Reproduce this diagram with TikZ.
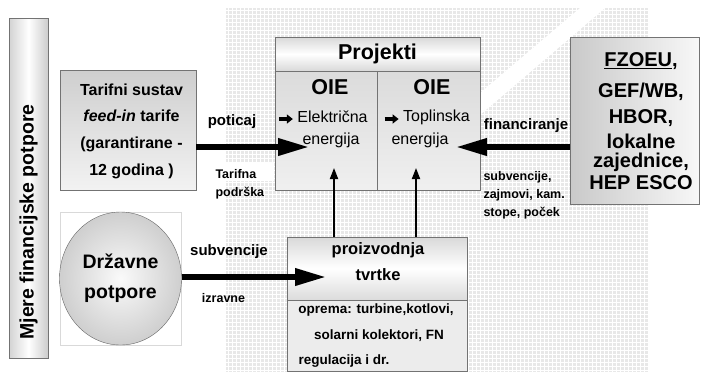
\documentclass[tikz,border=0pt]{standalone}
\usepackage{fontspec}
\setmainfont{Liberation Sans}
\usetikzlibrary{arrows.meta,positioning,shapes.geometric}

\tikzset{
  okvir/.style={draw=black!55, line width=0.7pt, inner sep=0pt},
  debela/.style={line width=6.5pt, -{Triangle[length=32pt,width=16pt]}},
  tanka/.style={line width=1.8pt, -{Triangle[length=11pt,width=8pt]}},
  malastr/.style={line width=3.5pt, -{Triangle[length=6pt,width=9pt]}},
  velika/.style={font=\fontsize{20}{19}\selectfont\bfseries},
  oznaka/.style={font=\fontsize{15}{18}\selectfont\bfseries},
  sitno/.style={font=\fontsize{12.5}{18}\selectfont\bfseries, align=left},
  obicno/.style={font=\fontsize{16}{20}\selectfont},
}

\begin{document}
\begin{tikzpicture}[x=1pt,y=-1pt]
\useasboundingbox (0,0) rectangle (703,376);

% Pozadina (mreza)
\fill[gray!18] (226,8) rectangle (648,372);
	\foreach \x in {228,232,...,646}
		\draw[white, line width=0.8pt] (\x,8) -- (\x,372);
	\foreach \y in {10,14,...,370}
		\draw[white, line width=0.8pt] (226,\y) -- (648,\y);
\fill[white] (580,8) -- (605,8) -- (480,115) -- (480,93) -- cycle;
\fill[white] (196,162) rectangle (274,181);

% Mjere
\node[okvir, left color=gray!35, right color=gray!40, middle color=white,
      minimum width=39, minimum height=340] (mjere) at (28.5,188.5) {};
\node[rotate=90, font=\fontsize{19.5}{20}\selectfont\bfseries] (mjeretxt) at (28.5,222) {Mjere financijske potpore};

% Tarifni sustav
\node[okvir, top color=gray!38, bottom color=gray!10, minimum width=136, minimum height=120] (tarifni) at (128,130) {};
\node[font=\fontsize{16}{26.7}\selectfont\bfseries, align=center] (tarifnitxt) at (131.5,131)
	{Tarifni sustav\\ \textit{feed-in} tarife\\ (garantirane -\\ 12 godina )};

% Projekti
\node[okvir, top color=gray!30, bottom color=gray!30, middle color=white,
      minimum width=205, minimum height=34, font=\fontsize{21.5}{22}\selectfont\bfseries] (projekti) at (377.5,54) {Projekti};
\node[okvir, top color=gray!28, bottom color=gray!12, minimum width=102.5, minimum height=119,
      anchor=north west] (oieL) at (projekti.south west) {};
\node[okvir, top color=gray!28, bottom color=gray!12, minimum width=102.5, minimum height=119,
      anchor=north east] (oieR) at (projekti.south east) {};
\node[font=\fontsize{21.5}{22}\selectfont\bfseries] (oieLtxt) at (330,87) {OIE};
\node[font=\fontsize{21.5}{22}\selectfont\bfseries] (oieRtxt) at (432,87) {OIE};
\node[obicno] (elektricna) at (332.5,117) {Električna};
\node[obicno] (energijaL) at (331,140) {energija};
\node[obicno] (toplinska) at (436.5,117) {Toplinska};
\node[obicno] (energijaR) at (420,140) {energija};
\draw[malastr] ([xshift=-15pt,yshift=-2pt]elektricna.west) -- ([xshift=-1pt,yshift=-2pt]elektricna.west);
\draw[malastr] ([xshift=-15pt,yshift=-2pt]toplinska.west) -- ([xshift=-1pt,yshift=-2pt]toplinska.west);

% Izvori financiranja
\node[okvir, left color=gray!42, right color=gray!6, minimum width=129, minimum height=167] (fzoeu) at (634.5,120.5) {};
\node[velika, align=center] (fzoeutxt) at (641,121)
	{\underline{FZOEU},\\[12pt] GEF/WB,\\[7pt] HBOR,\\[6pt] lokalne\\[0pt] zajednice,\\[3pt] HEP ESCO};

% Drzavne potpore
\node[draw=gray!30, fill=white, minimum width=121, minimum height=133, inner sep=0pt] (pozadina) at (120.5,278.5) {};
\node[ellipse, draw=black!60, inner color=gray!4, outer color=gray!38, minimum width=122, minimum height=133,
      font=\fontsize{19.5}{30}\selectfont\bfseries, align=center] (drzavne) at (120.5,278.5) {Državne\\potpore};

% Proizvodnja
\node[okvir, top color=gray!30, bottom color=gray!28, middle color=white,
      minimum width=180, minimum height=63] (proizvodnja) at (377,268.5) {};
\node[okvir, fill=gray!15, minimum width=180, minimum height=71, anchor=north] (oprema) at (proizvodnja.south) {};
\node[font=\fontsize{16.5}{26}\selectfont\bfseries, align=center] (proizvodnjatxt) at (378,262) {proizvodnja\\tvrtke};
\node[font=\fontsize{13.5}{16}\selectfont\bfseries] (oprema1) at (376,310) {oprema: turbine,kotlovi,};
\node[font=\fontsize{13.5}{16}\selectfont\bfseries] (oprema2) at (379,336) {solarni kolektori, FN};
\node[font=\fontsize{13.5}{16}\selectfont\bfseries, anchor=west] (oprema3) at (295,361) {regulacija i dr.};

% Strelice
\coordinate (poticajkraj) at (310,147);
\coordinate (financkraj) at (455,147);
\coordinate (subvkraj) at (327,277);
\coordinate (gore1) at (334,168);
\coordinate (gore2) at (416,168);
\draw[debela] (tarifni.east |- poticajkraj) -- (poticajkraj);
\draw[debela] (fzoeu.west |- financkraj) -- (financkraj);
\draw[debela] (drzavne.east |- subvkraj) -- (subvkraj);
\draw[tanka] (gore1 |- proizvodnja.north) -- (gore1);
\draw[tanka] (gore2 |- proizvodnja.north) -- (gore2);

% Oznake
\node[oznaka] (poticaj) at (232,122) {poticaj};
\node[sitno, anchor=west] (tarifna) at (212,184) {Tarifna\\podrška};
\node[oznaka] (financiranje) at (526,126) {financiranje};
\node[sitno, anchor=west] (zajmovi) at (480,195) {subvencije,\\zajmovi, kam.\\stope, poček};
\node[oznaka] (subvencije) at (229,252) {subvencije};
\node[sitno] (izravne) at (223.5,298) {izravne};
\end{tikzpicture}
\end{document}
